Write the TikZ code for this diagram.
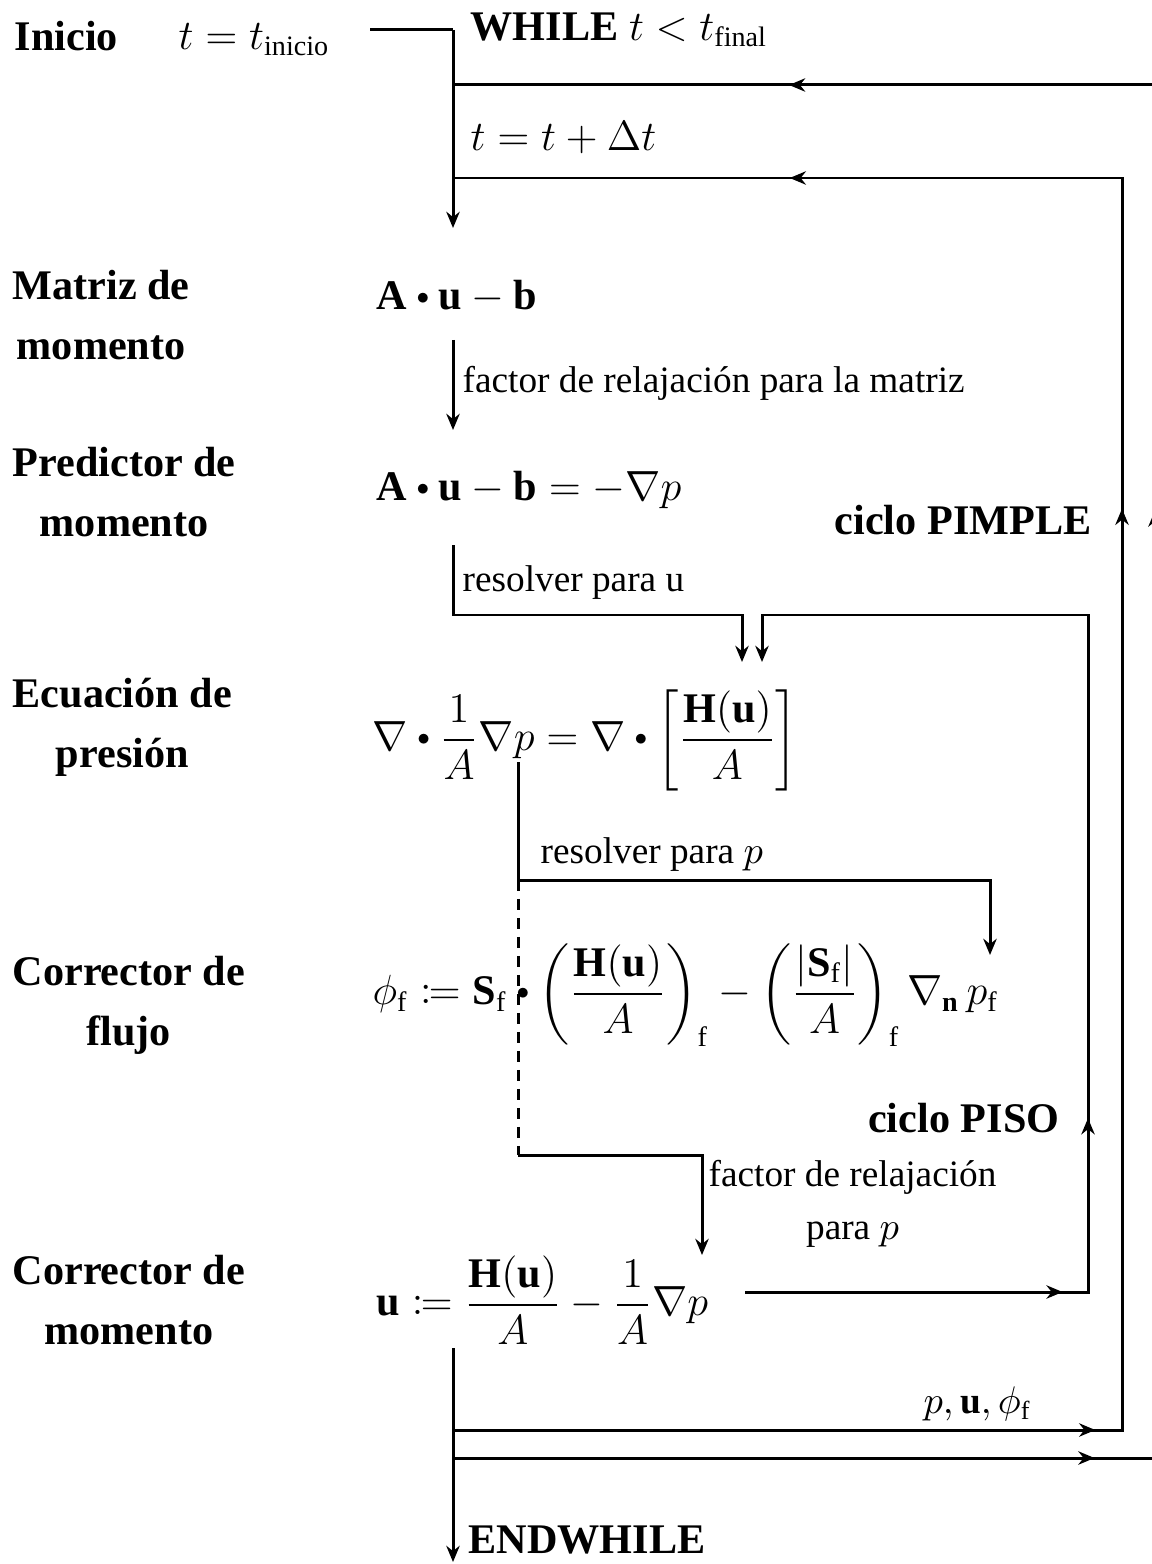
\documentclass[tikz,border=0pt]{standalone}
\usepackage{amsmath}
\usepackage{amssymb}
\usepackage{mathtools}
\usepackage{fontspec}
\setmainfont{Liberation Serif}
\usetikzlibrary{arrows.meta, decorations.markings, calc}

\newcommand{\bdot}{\mathbin{\vcenter{\hbox{\scalebox{0.6}{$\bullet$}}}}}

\tikzset{
  stage/.style={
    align=center, inner sep=0pt,
    font=\fontsize{12}{17}\selectfont\bfseries
  },
  formula/.style={
    anchor=west, inner sep=0pt,
    font=\fontsize{12}{14}\selectfont
  },
  note/.style={
    anchor=west, inner sep=0pt,
    font=\fontsize{10.6}{15}\selectfont
  },
  flow/.style={line width=0.85pt},
  tip/.style={->},
  midtip/.style={
    postaction={decorate, decoration={markings,
      mark=at position #1 with {\arrow{>}}}}
  }
}

\begin{document}
\begin{tikzpicture}[x=0.01cm, y=-0.01cm, >={Stealth[length=4.6pt,width=3.8pt]}]
  \useasboundingbox (0,0) rectangle (1151,1564);

  % stages on the left
  \node[stage, anchor=west] (inicio) at (14,36) {Inicio};
  \node[stage, anchor=west] (matriz) at (12,315) {Matriz de\\momento};
  \node[stage, anchor=west] (pred) at (12,492) {Predictor de\\momento};
  \node[stage, anchor=west] (ecpres) at (12,727) {Ecuación de\\presión};
  \node[stage, anchor=west] (corflujo) at (12,1005) {Corrector de\\flujo};
  \node[stage, anchor=west] (cormom) at (12,1300) {Corrector de\\momento};

  % equations
  \node[formula] (tini) at (178,40) {$t = t_{\text{inicio}}$};
  \node[formula] (while) at (470,30) {\textbf{WHILE} $t < t_{\text{final}}$};
  \node[formula] (tstep) at (470,138) {$t = t + \Delta t$};
  \node[formula] (amat) at (376,297) {$\mathbf{A}\bdot\mathbf{u}-\mathbf{b}$};
  \node[formula] (apred) at (376,490) {$\mathbf{A}\bdot\mathbf{u}-\mathbf{b}=-\nabla p$};
  \node[formula] (peq) at (372,740)
    {$\displaystyle \nabla\bdot\frac{1}{A}\nabla p=\nabla\bdot\left[\frac{\mathbf{H}(\mathbf{u})}{A}\right]$};
  \node[formula] (flux) at (372,995)
    {$\displaystyle \phi_{\mathrm{f}}\coloneqq\mathbf{S}_{\mathrm{f}}\bdot\left(\frac{\mathbf{H}(\mathbf{u})}{A}\right)_{\mathrm{f}}-\left(\frac{|\mathbf{S}_{\mathrm{f}}|}{A}\right)_{\mathrm{f}}\nabla_{\mathbf{n}}\,p_{\mathrm{f}}$};
  \node[formula] (ucor) at (376,1300)
    {$\displaystyle \mathbf{u}\coloneqq\frac{\mathbf{H}(\mathbf{u})}{A}-\frac{1}{A}\nabla p$};
  \node[stage, anchor=west] (endw) at (468,1540) {ENDWHILE};

  % loop names and notes
  \node[stage, anchor=east] (pimple) at (1092,520) {ciclo PIMPLE};
  \node[stage, anchor=east] (piso) at (1060,1118) {ciclo PISO};
  \node[note] (nmat) at (462,383) {factor de relajación para la matriz};
  \node[note] (nu) at (462,583) {resolver para u};
  \node[note] (np) at (540,855) {resolver para $p$};
  \node[note, align=center, anchor=north west] (nrel) at (708,1160)
    {factor de relajación\\para $p$};
  \node[note, anchor=south east] (nvars) at (1032,1422) {$p,\mathbf{u},\phi_{\mathrm{f}}$};

  % corner points
  \coordinate (a0) at (370,30);
  \coordinate (a1) at (453,30);
  \coordinate (a2) at (453,228);
  \coordinate (r1) at (1155,85);
  \coordinate (l1) at (453,85);
  \coordinate (r2) at (1122,178);
  \coordinate (l2) at (453,178);
  \coordinate (r3) at (1122,1430);
  \coordinate (l3) at (453,1430);
  \coordinate (r4) at (1155,1458);
  \coordinate (l4) at (453,1458);
  \coordinate (m0) at (453,340);
  \coordinate (m1) at (453,430);
  \coordinate (p0) at (453,545);
  \coordinate (p2) at (742,615);
  \coordinate (p3) at (742,662);
  \coordinate (q0) at (745,1292);
  \coordinate (q1) at (1088,1292);
  \coordinate (q2) at (1088,615);
  \coordinate (q3) at (762,615);
  \coordinate (q4) at (762,662);
  \coordinate (s0) at (518,762);
  \coordinate (s1) at (518,880);
  \coordinate (s2) at (990,880);
  \coordinate (s3) at (990,955);
  \coordinate (d1) at (518,1155);
  \coordinate (d3) at (702,1255);
  \coordinate (b0) at (453,1348);
  \coordinate (b1) at (453,1562);

  % time loop
  \draw[flow] (a0) -- (a1);
  \draw[flow, tip] (a1) -- (a2);
  \draw[flow, midtip=0.231, midtip=0.594, midtip=0.879] (l4) -- (r4) -- (r1) -- (l1);
  \draw[flow, midtip=0.248, midtip=0.614, midtip=0.870] (l3) -- (r3) -- (r2) -- (l2);

  % PIMPLE steps
  \draw[flow, tip] (m0) -- (m1);
  \draw[flow, tip] (p0) |- (p2) -- (p3);
  \draw[flow, midtip=0.228, midtip=0.371, tip] (q0) -- (q1) -- (q2) -- (q3) -- (q4);
  \draw[flow, tip] (s0) |- (s2) -- (s3);
  \draw[flow, dashed, dash pattern=on 3.2pt off 2.2pt] (s1) -- (d1);
  \draw[flow, tip] (d1) -| (d3);
  \draw[flow, tip] (b0) -- (b1);
\end{tikzpicture}
\end{document}
